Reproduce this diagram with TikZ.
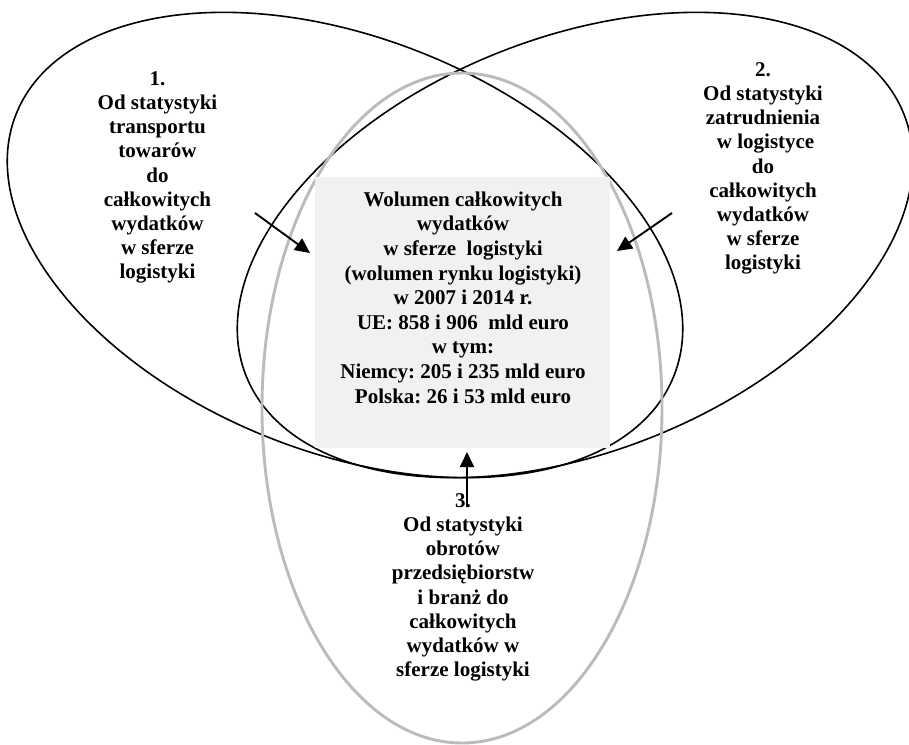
\documentclass[tikz,border=0pt]{standalone}
\usepackage{fontspec}
\setmainfont{Liberation Serif}
\usetikzlibrary{arrows.meta}
\definecolor{boxfill}{RGB}{241,241,241}
\definecolor{ringgray}{RGB}{187,187,187}
\begin{document}
\frenchspacing
\begin{tikzpicture}[x=1pt,y=-1pt,
  blackring/.style={draw=black, line width=1.6pt},
  grayring/.style={draw=ringgray, line width=2.9pt},
  sidetext/.style={anchor=north, align=center, inner sep=0pt,
    font=\fontsize{21}{24.2}\selectfont\bfseries\frenchspacing},
  centertext/.style={anchor=north, align=center, inner sep=0pt,
    font=\fontsize{21}{24.6}\selectfont\bfseries\frenchspacing},
  arr/.style={line width=1.9pt, -{Triangle[length=15pt,width=14pt]}}]
\useasboundingbox (0,0) rectangle (909,744);
% three rings
\draw[blackring, rotate around={-21.7:(345,245)}] (345,245) ellipse [x radius=354, y radius=207];
\draw[blackring, rotate around={21.7:(575,245)}] (575,245) ellipse [x radius=354, y radius=207];
\draw[grayring] (462,408) ellipse [x radius=200, y radius=335];
% central box
\node[fill=boxfill, minimum width=295pt, minimum height=271pt, inner sep=0pt] (box) at (462.5,312.5) {};
\node[centertext] (ctext) at (463,188.8) {\strut Wolumen całkowitych\\wydatków\\w sferze\ \ logistyki\\(wolumen rynku logistyki)\\w 2007 i 2014 r.\\UE: 858 i 906\ \ mld euro\\w tym:\\Niemcy: 205 i 235 mld euro\\Polska: 26 i 53 mld euro};
% side texts
\node[sidetext] (t1txt) at (157.5,68.1) {\strut 1.\\Od statystyki\\transportu\\towarów\\do\\całkowitych\\wydatków\\w sferze\\logistyki};
\node[sidetext] (t2txt) at (763,59.1) {\strut 2.\\Od statystyki\\zatrudnienia\\\ w logistyce\\do\\całkowitych\\wydatków\\w sferze\\logistyki};
\node[sidetext] (t3txt) at (463,490.1) {\strut 3.\\Od statystyki\\obrotów\\przedsiębiorstw\\i branż do\\całkowitych\\wydatków w\\sferze logistyki};
% arrows
\coordinate (s1) at (255,213); \coordinate (e1) at (310,253);
\coordinate (s2) at (672,213); \coordinate (e2) at (617,251);
\coordinate (s3) at (467,507); \coordinate (e3) at (467,452);
\draw[arr] (s1) -- (e1);
\draw[arr] (s2) -- (e2);
\draw[arr] (s3) -- (e3);
\end{tikzpicture}
\end{document}
